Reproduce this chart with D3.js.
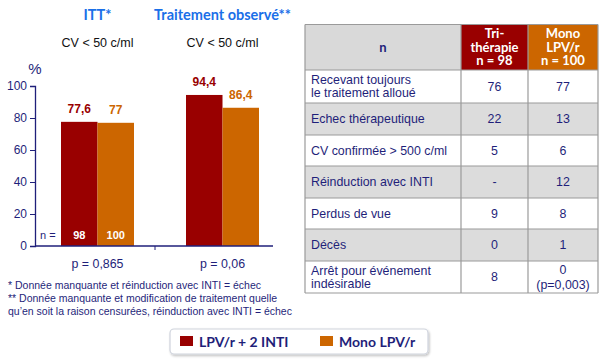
<!DOCTYPE html>
<html>
<head>
<meta charset="utf-8">
<script src="https://cdn.jsdelivr.net/npm/d3@7"></script>
<style>
  body { margin: 0; background: #fff; }
  text { font-family: "Liberation Sans", Arial, sans-serif; }
</style>
</head>
<body>
<div id="chart"></div>
<script>
var groups = ["ITT*", "Traitement observé**"];
var subTitles = ["CV < 50 c/ml", "CV < 50 c/ml"];
var series = ["LPV/r + 2 INTI", "Mono LPV/r"];
var lpvInti = [77.6, 94.4];
var monoLpv = [77, 86.4];
var nValues = [98, 100];
var pValues = ["p = 0,865", "p = 0,06"];
var yTicks = [0, 20, 40, 60, 80, 100];

var rowLabels = [["Recevant toujours", "le traitement alloué"], ["Echec thérapeutique"], ["CV confirmée > 500 c/ml"],
  ["Réinduction avec INTI"], ["Perdus de vue"], ["Décès"], ["Arrêt pour événement", "indésirable"]];
var triValues = [["76"], ["22"], ["5"], ["-"], ["9"], ["0"], ["8"]];
var monoValues = [["77"], ["13"], ["6"], ["12"], ["8"], ["1"], ["0", "(p=0,003)"]];
var tableHeader = [["n"], ["Tri-", "thérapie", "n = 98"], ["Mono", "LPV/r", "n = 100"]];

var footnotes = ["* Donnée manquante et réinduction avec INTI  = échec",
  "** Donnée manquante et modification de traitement quelle",
  "qu’en soit la raison censurées, réinduction avec INTI  = échec"];

var colors = ["#990000", "#cc6600"];
var navy = "#1f1f7a";
var blue = "#1a6fe8";

var svg = d3.select("#chart").append("svg")
    .attr("width", 600).attr("height", 361);

// ---- bar chart ----
var y = d3.scaleLinear().domain([0, 100]).range([246, 86]);
var x0 = d3.scaleBand().domain(groups).range([35, 285]);
var x1 = d3.scaleBand().domain(series).range([-36.5, 36.5]);

var data = groups.map(function(g, i) {
  return {group: g, vals: [lpvInti[i], monoLpv[i]]};
});

var yAxis = d3.axisLeft(y).tickValues(yTicks).tickSize(5).tickPadding(3);
var gy = svg.append("g").attr("transform", "translate(35,0)").call(yAxis);
gy.select(".domain").attr("stroke", navy).attr("stroke-width", 1.3);
gy.selectAll(".tick line").attr("stroke", navy);
gy.selectAll(".tick text").attr("fill", navy).style("font-size", "12px")
  .style("font-family", "Liberation Sans, Arial, sans-serif");

svg.append("text").attr("x", 35).attr("y", 74).attr("text-anchor", "middle")
  .attr("fill", navy).style("font-size", "15px").text("%");

var grp = svg.selectAll(".grp").data(data).enter().append("g")
  .attr("transform", function(d) { return "translate(" + (x0(d.group) + x0.bandwidth() / 2) + ",0)"; });

grp.selectAll("rect").data(function(d) { return d.vals; }).enter().append("rect")
  .attr("x", function(d, i) { return x1(series[i]); })
  .attr("width", x1.bandwidth())
  .attr("y", function(d) { return y(d); })
  .attr("height", function(d) { return y(0) - y(d); })
  .attr("fill", function(d, i) { return colors[i]; });

grp.selectAll(".val").data(function(d) { return d.vals; }).enter().append("text")
  .attr("x", function(d, i) { return x1(series[i]) + x1.bandwidth() / 2; })
  .attr("y", function(d) { return y(d) - 9; })
  .attr("text-anchor", "middle")
  .attr("fill", function(d, i) { return colors[i]; })
  .style("font-size", "12px").style("font-weight", "bold")
  .text(function(d) { return String(d).replace(".", ","); });

// x axis line
svg.append("line").attr("x1", 35).attr("x2", 273).attr("y1", 246).attr("y2", 246)
  .attr("stroke", navy).attr("stroke-width", 1.3);
svg.append("line").attr("x1", 155).attr("x2", 155).attr("y1", 246).attr("y2", 250)
  .attr("stroke", navy);

// n =
svg.append("text").attr("x", 40).attr("y", 239).attr("fill", navy)
  .style("font-size", "11px").text("n =");
svg.selectAll(".nval").data(nValues).enter().append("text")
  .attr("x", function(d, i) { return x0(groups[0]) + x0.bandwidth() / 2 + x1(series[i]) + x1.bandwidth() / 2; })
  .attr("y", 239).attr("text-anchor", "middle").attr("fill", "#fff")
  .style("font-size", "11px").style("font-weight", "bold").text(function(d) { return d; });

// titles
svg.selectAll(".title").data(groups).enter().append("text")
  .attr("x", function(d) { return x0(d) + x0.bandwidth() / 2; })
  .attr("y", 20).attr("text-anchor", "middle").attr("fill", blue)
  .style("font-family", "Lato, sans-serif")
  .style("font-size", "14.5px").style("font-weight", "bold").text(function(d) { return d; });
svg.selectAll(".sub").data(subTitles).enter().append("text")
  .attr("x", function(d, i) { return x0(groups[i]) + x0.bandwidth() / 2; })
  .attr("y", 47).attr("text-anchor", "middle").attr("fill", "#111")
  .style("font-size", "12.5px").text(function(d) { return d; });
svg.selectAll(".pv").data(pValues).enter().append("text")
  .attr("x", function(d, i) { return x0(groups[i]) + x0.bandwidth() / 2; })
  .attr("y", 268).attr("text-anchor", "middle").attr("fill", navy)
  .style("font-size", "12.4px").text(function(d) { return d; });

svg.selectAll(".fn").data(footnotes).enter().append("text")
  .attr("x", 8).attr("y", function(d, i) { return 289 + i * 13; })
  .attr("fill", navy).style("font-size", "10.5px").text(function(d) { return d; });

// ---- table ----
var colX = [305, 461, 528, 598];
var rowY = [24.5, 70, 103, 135, 166, 198, 229, 261, 293];
var tbl = svg.append("g");

rowLabels.forEach(function(r, i) {
  var fill = i % 2 === 0 ? "#ffffff" : "#dcdcdc";
  tbl.append("rect").attr("x", colX[0]).attr("y", rowY[i + 1])
    .attr("width", colX[3] - colX[0]).attr("height", rowY[i + 2] - rowY[i + 1]).attr("fill", fill);
});
var headFill = ["#d9d9d9", colors[0], colors[1]];
tableHeader.forEach(function(h, j) {
  tbl.append("rect").attr("x", colX[j]).attr("y", rowY[0])
    .attr("width", colX[j + 1] - colX[j]).attr("height", rowY[1] - rowY[0]).attr("fill", headFill[j]);
});

function multiline(lines, cx, cy, anchor, lh) {
  var t = tbl.append("text").attr("text-anchor", anchor);
  lines.forEach(function(l, k) {
    t.append("tspan").attr("x", cx)
      .attr("y", cy + (k - (lines.length - 1) / 2) * lh + 4).text(l);
  });
  return t;
}

tableHeader.forEach(function(h, j) {
  var t = multiline(h, (colX[j] + colX[j + 1]) / 2, (rowY[0] + rowY[1]) / 2 + 0.5, "middle", 13.5);
  t.attr("fill", j === 0 ? navy : "#fff").style("font-family", "Lato, sans-serif")
    .style("font-weight", "bold").style("font-size", "13px");
});

rowLabels.forEach(function(r, i) {
  var cy = (rowY[i + 1] + rowY[i + 2]) / 2;
  multiline(r, colX[0] + 6, cy, "start", 13).attr("fill", navy).style("font-size", "12.4px");
  multiline(triValues[i], (colX[1] + colX[2]) / 2, cy, "middle", 13).attr("fill", navy).style("font-size", "12.4px");
  multiline(monoValues[i], (colX[2] + colX[3]) / 2, cy, "middle", 15).attr("fill", navy).style("font-size", "12.4px");
});

// grid lines
rowY.forEach(function(yy) {
  tbl.append("line").attr("x1", colX[0]).attr("x2", colX[3]).attr("y1", yy).attr("y2", yy)
    .attr("stroke", "#9a9a9a").attr("stroke-width", 1.2);
});
colX.forEach(function(xx) {
  tbl.append("line").attr("x1", xx).attr("x2", xx).attr("y1", rowY[0]).attr("y2", rowY[rowY.length - 1])
    .attr("stroke", "#9a9a9a").attr("stroke-width", 1.2);
});

// ---- legend ----
var defs = svg.append("defs");
var f = defs.append("filter").attr("id", "shadow").attr("x", "-5%").attr("y", "-20%").attr("width", "110%").attr("height", "150%");
f.append("feDropShadow").attr("dx", 1).attr("dy", 1.5).attr("stdDeviation", 1).attr("flood-color", "#000").attr("flood-opacity", 0.25);

var leg = svg.append("g");
leg.append("rect").attr("x", 170).attr("y", 329).attr("width", 258).attr("height", 25)
  .attr("rx", 4).attr("fill", "#fff").attr("stroke", "#cfd3dc").attr("stroke-width", 1.2)
  .attr("filter", "url(#shadow)");
var legX = [180, 320];
series.forEach(function(s, i) {
  leg.append("rect").attr("x", legX[i]).attr("y", 336).attr("width", 13).attr("height", 10).attr("fill", colors[i]);
  leg.append("text").attr("x", legX[i] + 19).attr("y", 346.5).attr("fill", navy)
    .style("font-family", "Lato, sans-serif").style("font-weight", "bold").style("font-size", "14px").text(s);
});
</script>
</body>
</html>
